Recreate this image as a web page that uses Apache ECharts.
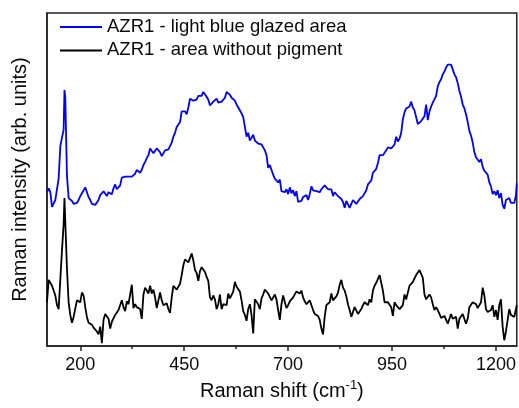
<!DOCTYPE html>
<html><head><meta charset="utf-8">
<script src="https://cdn.jsdelivr.net/npm/echarts@6/dist/echarts.min.js"></script>
<style>html,body{margin:0;padding:0;background:#fff}#c{width:519px;height:408px}</style>
</head><body><div id="c"></div>
<script>
// Raman shift (cm^-1)
const wavenumbers = [
120,124,128,132,136,140,144,148,152,156,
160,162,164,168,172,176,180,184,188,192,
196,200,204,208,212,216,220,224,228,232,
236,240,244,248,252,256,260,264,268,272,
276,280,284,288,292,296,300,304,308,312,
316,320,324,328,332,336,340,344,348,352,
356,360,364,368,372,376,380,384,388,392,
396,400,404,408,412,416,420,424,428,432,
436,440,444,448,452,456,460,464,468,472,
476,480,484,488,492,496,500,504,508,512,
516,520,524,528,532,536,540,544,548,552,
556,560,564,568,572,576,580,584,588,592,
596,600,604,608,612,616,620,624,628,632,
636,640,644,648,652,656,660,664,668,672,
676,680,684,688,692,696,700,704,708,712,
716,720,724,728,732,736,740,744,748,752,
756,760,764,768,772,776,780,784,788,792,
796,800,804,808,812,816,820,824,828,832,
836,840,844,848,852,856,860,864,868,872,
876,880,884,888,892,896,900,904,908,912,
916,920,924,928,932,936,940,944,948,952,
956,960,964,968,972,976,980,984,988,992,
996,1000,1004,1008,1012,1016,1020,1024,1028,1032,
1036,1040,1044,1048,1052,1056,1060,1064,1068,1072,
1076,1080,1084,1088,1092,1096,1100,1104,1108,1112,
1116,1120,1124,1128,1132,1136,1140,1144,1148,1152,
1156,1160,1164,1168,1172,1176,1180,1184,1188,1192,
1196,1200,1204,1208,1212,1216,1220,1224,1228,1232,
1236,1240,1244,1248,1250
];
// AZR1 - light blue glazed area (arb. units, offset)
const blueGlazed = [
158,162,158,143,144,150,151,172,205,214,
222,263,255,175,152,150,149,146,147,147,
150,154,157,159,163,158,153,150,146,144,
145,147,150,155,156,159,157,154,158,156,
156,162,166,161,159,165,173,173,174,176,
174,174,174,174,177,181,182,178,181,186,
189,193,196,203,203,198,200,203,201,199,
195,197,201,201,202,204,209,215,219,225,
225,230,241,243,241,238,245,254,255,252,
254,253,257,258,257,261,261,256,253,247,
249,251,251,254,250,252,251,252,255,261,
259,258,255,254,252,248,245,247,239,235,
225,215,219,211,212,217,211,209,208,209,
207,204,201,196,183,186,184,176,172,174,
168,171,159,157,158,161,156,163,157,160,
154,159,148,150,149,153,152,155,150,156,
164,160,162,159,160,158,161,162,165,166,
161,159,161,154,158,156,154,155,151,148,
142,149,148,142,146,150,149,146,148,151,
152,154,156,160,166,165,170,178,178,182,
188,196,196,196,197,201,204,204,203,201,
207,215,210,213,219,233,240,244,243,246,
251,245,242,235,228,228,231,232,236,248,
232,241,246,250,252,257,267,271,274,279,
282,286,289,291,289,288,279,276,270,262,
256,248,244,238,230,221,216,209,199,194,
195,189,192,184,180,181,176,168,164,156,
159,155,160,152,157,145,141,150,151,152,
147,148,147,155,167
];
// AZR1 - area without pigment (arb. units)
const noPigment = [
45,68,66,62,57,52,42,38,68,98,
125,152,128,80,45,32,24,30,30,47,
47,45,55,52,40,30,24,22,22,19,
18,15,12,20,3,27,33,35,28,18,
25,23,32,30,37,36,47,40,36,46,
43,53,63,39,43,40,42,38,28,53,
60,58,54,62,54,58,50,39,47,55,
47,42,43,44,38,34,50,62,61,58,
57,64,73,83,89,89,86,87,95,88,
78,75,67,77,81,81,76,71,67,50,
47,52,48,38,43,53,38,43,41,42,
54,49,50,56,66,61,61,56,47,36,
32,26,38,43,32,13,48,47,43,38,
49,53,58,58,54,53,47,47,53,48,
37,27,43,52,53,39,42,46,48,50,
50,56,57,54,57,50,46,43,41,47,
45,37,33,31,31,27,18,12,30,42,
43,45,54,47,47,51,55,63,68,60,
57,51,43,37,30,32,40,38,33,35,
38,42,45,44,42,48,45,57,62,65,
64,73,72,57,45,47,45,47,40,31,
45,42,42,38,38,42,53,48,50,62,
60,66,65,73,73,78,78,70,53,48,
47,53,50,43,37,40,37,33,29,29,
31,31,23,25,33,28,29,30,18,28,
30,33,32,23,28,40,42,45,47,43,
39,39,45,60,52,38,35,33,37,42,
30,37,27,42,48,20,6,15,13,38,
32,33,30,38,42
];
const seriesNames = ['AZR1 - light blue glazed area', 'AZR1 - area without pigment'];
const xMajorTicks = [200, 450, 700, 950, 1200];
const xMinorTicks = [325, 575, 825, 1075];

const FONT = '"Liberation Sans", Arial, Helvetica, sans-serif';
const AX = '#222';
const TXT = '#0a0a0a';
const toPairs = arr => wavenumbers.map((w, i) => [w, arr[i]]);

const chart = echarts.init(document.getElementById('c'), null, {renderer: 'canvas'});
chart.setOption({
  animation: false,
  backgroundColor: '#fff',
  textStyle: {fontFamily: FONT},
  grid: {left: 47, right: 1, top: 13, bottom: 53, show: true, borderColor: AX, borderWidth: 1.5, backgroundColor: 'transparent'},
  legend: {
    orient: 'vertical', left: 60, top: 17, padding: 0,
    icon: 'rect', itemWidth: 42, itemHeight: 2, itemGap: 3.4,
    textStyle: {fontFamily: FONT, fontSize: 18.5, color: TXT, lineHeight: 20},
    data: seriesNames
  },
  xAxis: [{
    type: 'value', min: 120, max: 1250, position: 'bottom',
    axisLine: {show: true, onZero: false, lineStyle: {color: AX, width: 1.5}},
    axisTick: {show: true, customValues: xMajorTicks, length: 5, inside: false, lineStyle: {color: AX, width: 1.5}},
    axisLabel: {customValues: xMajorTicks, fontSize: 18, color: TXT, margin: 10, fontFamily: FONT,
      formatter: v => String(v)},
    splitLine: {show: false},
    name: 'Raman shift (cm{sup|-1})', nameLocation: 'middle', nameGap: 29,
    nameTextStyle: {fontSize: 20, color: TXT, fontFamily: FONT, lineHeight: 24,
      rich: {sup: {fontSize: 13, verticalAlign: 'top', lineHeight: 14, fontFamily: FONT, color: TXT}}}
  }, {
    type: 'value', min: 120, max: 1250, position: 'bottom',
    axisLine: {show: false},
    axisTick: {show: true, customValues: xMinorTicks, length: 3, inside: false, lineStyle: {color: AX, width: 1.5}},
    axisLabel: {show: false},
    splitLine: {show: false}
  }],
  yAxis: {
    type: 'value', min: 0, max: 342,
    axisLine: {show: true, onZero: false, lineStyle: {color: AX, width: 1.5}},
    axisTick: {show: false}, axisLabel: {show: false}, splitLine: {show: false},
    name: 'Raman intensity (arb. units)', nameLocation: 'middle', nameGap: 17,
    nameTextStyle: {fontSize: 20, color: TXT, fontFamily: FONT}
  },
  series: [{
    name: seriesNames[0], type: 'line', xAxisIndex: 0, data: toPairs(blueGlazed),
    symbol: 'none', showSymbol: false, lineStyle: {color: '#0000ff', width: 1.8}, itemStyle: {color: '#0000ff'}
  }, {
    name: seriesNames[1], type: 'line', xAxisIndex: 0, data: toPairs(noPigment),
    symbol: 'none', showSymbol: false, lineStyle: {color: '#000000', width: 1.8}, itemStyle: {color: '#000000'}
  }]
});
</script></body></html>
